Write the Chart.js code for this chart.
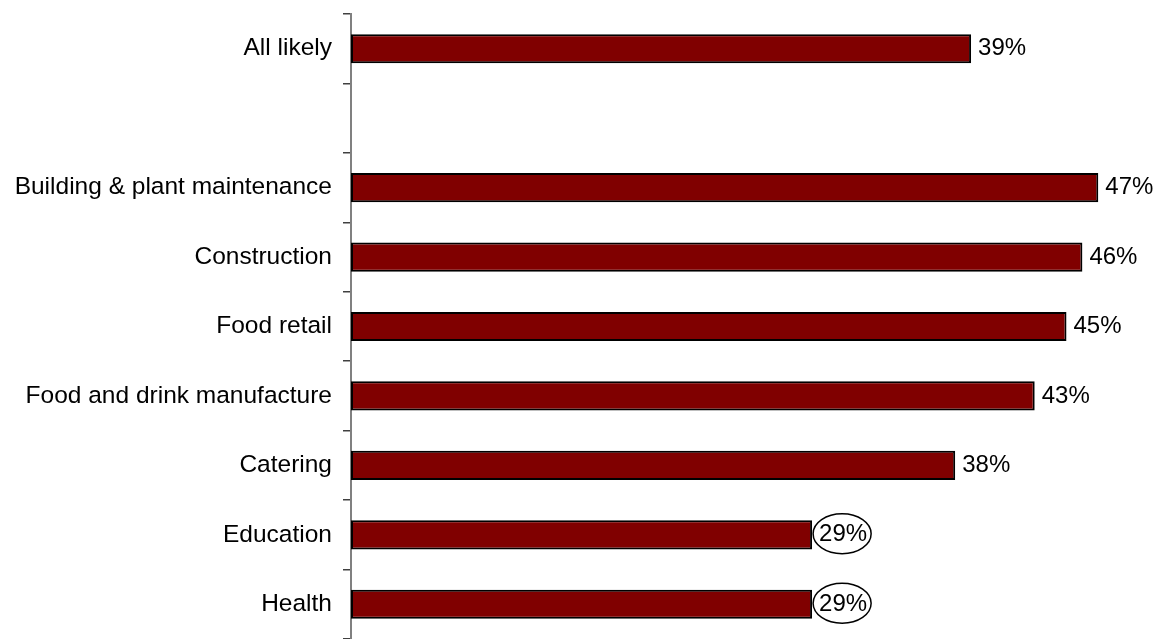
<!DOCTYPE html>
<html>
<head>
<meta charset="utf-8">
<script src="https://cdn.jsdelivr.net/npm/chart.js@4/dist/chart.umd.min.js"></script>
<style>
  html, body { margin: 0; padding: 0; background: #fff; }
  #wrap { width: 1163px; height: 639px; }
</style>
</head>
<body>
<div id="wrap"><canvas id="chart"></canvas></div>
<script>
// ── DATA ─────────────────────────────────────────────────────────────────────
const categories = [
  'All likely',
  '',
  'Building & plant maintenance',
  'Construction',
  'Food retail',
  'Food and drink manufacture',
  'Catering',
  'Education',
  'Health'
];
const values  = [39, null, 47, 46, 45, 43, 38, 29, 29];
const circled = [false, false, false, false, false, false, false, true, true];

const FONT = "'Liberation Sans', Arial, sans-serif";

// value labels at the bar ends, with an ellipse round the flagged ones
const valueLabels = {
  id: 'valueLabels',
  afterDatasetsDraw(chart) {
    const meta = chart.getDatasetMeta(0);
    const ctx  = chart.ctx;
    ctx.save();
    ctx.font         = '24px ' + FONT;
    ctx.fillStyle    = '#000';
    ctx.textAlign    = 'left';
    ctx.textBaseline = 'middle';
    meta.data.forEach((bar, i) => {
      if (values[i] == null) return;
      const text = values[i] + '%';
      const x = bar.x + 7;
      const y = bar.y;
      ctx.fillText(text, x, y);
      if (circled[i]) {
        const w = ctx.measureText(text).width;
        ctx.beginPath();
        ctx.ellipse(x + w / 2 - 1, y - 1, w / 2 + 5, 20, 0, 0, Math.PI * 2);
        ctx.strokeStyle = '#000';
        ctx.lineWidth   = 1.5;
        ctx.stroke();
      }
    });
    ctx.restore();
  }
};

new Chart(document.getElementById('chart'), {
  type: 'bar',
  data: {
    labels: categories,
    datasets: [{
      data:            values,
      backgroundColor: '#800000',
      borderColor:     '#000',
      borderWidth:     2,
      borderSkipped:   false,
      barPercentage:   0.42,
      categoryPercentage: 1
    }]
  },
  options: {
    indexAxis: 'y',
    responsive: true,
    maintainAspectRatio: false,
    animation: false,
    layout: { padding: { top: 14, right: 17, bottom: -1, left: 0 } },
    plugins: {
      legend:  { display: false },
      tooltip: { enabled: false }
    },
    scales: {
      x: {
        display: false,
        min: 0,
        max: 50
      },
      y: {
        afterFit: scale => {
          scale.width = 351;
          scale.paddingTop = 0;
          scale.paddingBottom = 0;
        },
        border: { display: true, color: '#808080', width: 2 },
        grid: {
          drawOnChartArea: false,
          drawTicks: true,
          tickLength: 8,
          color: '#404040',
          lineWidth: 1.5
        },
        ticks: {
          color:   '#000',
          padding: 11,
          font:    { family: FONT, size: 24.5 }
        }
      }
    }
  },
  plugins: [valueLabels]
});
</script>
</body>
</html>
